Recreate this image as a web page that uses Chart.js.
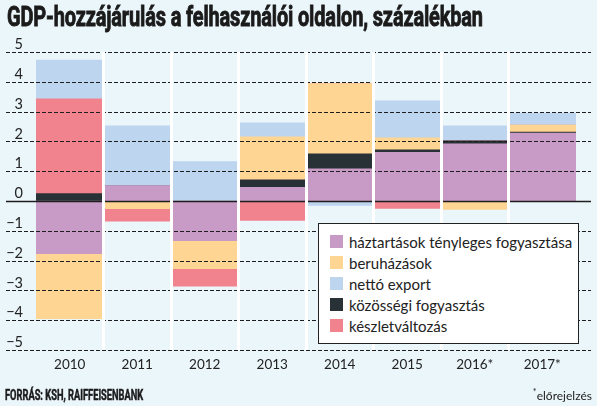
<!DOCTYPE html>
<html>
<head>
<meta charset="utf-8">
<script src="https://cdn.jsdelivr.net/npm/chart.js@4.4.1/dist/chart.umd.min.js"></script>
<style>
  html, body { margin: 0; padding: 0; background: #EBF6FB; }
  #wrap { position: relative; width: 597px; height: 406px; overflow: hidden; background: #EBF6FB; }
  #chart { position: absolute; left: 0; top: 0; }
  #title {
    position: absolute; left: 7px; top: 0px; white-space: nowrap;
    font: bold 28px Roboto, "DejaVu Sans", sans-serif; color: #1b1b1b;
    -webkit-text-stroke: 0.9px #1b1b1b;
    transform-origin: 0 0; letter-spacing: -0.2px;
  }
  #source {
    position: absolute; left: 5px; top: 387px; white-space: nowrap;
    font: bold 14px Roboto, sans-serif; color: #1b1b1b; transform-origin: 0 0;
    -webkit-text-stroke: 0.5px #1b1b1b;
  }
  #note {
    position: absolute; right: 5px; top: 386px; white-space: nowrap;
    font: 12px Lato, sans-serif; color: #222;
  }
  #note sup { font-size: 9px; }
  #legend {
    position: absolute; left: 318px; top: 223px; width: 261px; height: 121px;
    box-sizing: border-box; background: #fff; border: 1px solid #222;
    padding: 7px 0 0 11px;
  }
  .item { height: 21px; display: flex; align-items: center; font: 15px Lato, sans-serif; color: #222; white-space: nowrap; }
  .sw { width: 13px; height: 13px; margin-right: 6px; flex: none; }
</style>
</head>
<body>
<div id="wrap">
  <canvas id="chart" width="597" height="406"></canvas>
  <div id="title">GDP-hozzájárulás a felhasználói oldalon, százalékban</div>
  <div id="legend"></div>
  <div id="source">FORRÁS: KSH, RAIFFEISENBANK</div>
  <div id="note"><sup>*</sup>előrejelzés</div>
</div>
<script>
// categories
const years = ['2010', '2011', '2012', '2013', '2014', '2015', '2016*', '2017*'];

// series values (percentage points)
const haztartasok = [-1.77, 0.52, -1.33, 0.46, 1.08, 1.63, 1.92, 2.28];
const kozossegi = [0.25, 0, 0, 0.25, 0.50, 0.09, 0.10, 0.03];
const beruhazasok = [-2.18, -0.26, -0.94, 1.44, 2.36, 0.40, -0.28, 0.24];
const keszlet = [3.18, -0.42, -0.59, -0.65, 0, -0.25, 0, 0];
const nettoExport = [1.30, 2.00, 1.32, 0.47, -0.15, 1.24, 0.50, 0.40];

// y ticks
const yTicks = [-5, -4, -3, -2, -1, 0, 1, 2, 3, 4, 5];

const colors = {
    haztartasok: '#C79BC6',
    beruhazasok: '#FED592',
    nettoExport: '#BDD5EF',
    kozossegi: '#283236',
    keszlet: '#F0838D'
};

// legend order differs from stacking order
const legendItems = [
    ['háztartások tényleges fogyasztása', colors.haztartasok],
    ['beruházások', colors.beruhazasok],
    ['nettó export', colors.nettoExport],
    ['közösségi fogyasztás', colors.kozossegi],
    ['készletváltozás', colors.keszlet]
];

const legendEl = document.getElementById('legend');
legendItems.forEach(([label, color]) => {
    const row = document.createElement('div');
    row.className = 'item';
    row.innerHTML = '<span class="sw" style="background:' + color + '"></span>' + label;
    legendEl.appendChild(row);
});

// squeeze condensed headings to the reference width
function fitWidth(id, w) {
    const el = document.getElementById(id);
    el.style.transform = 'scaleX(' + (w / el.scrollWidth) + ')';
}
fitWidth('title', 476);
fitWidth('source', 138);

// dashed gridlines drawn over the bars, wider than the plot area
const dashedGrid = {
    id: 'dashedGrid',
    afterDatasetsDraw(chart) {
        const { ctx, scales: { y } } = chart;
        ctx.save();
        ctx.strokeStyle = '#1e1e1e';
        yTicks.forEach(v => {
            const py = Math.round(y.getPixelForValue(v)) + 0.5;
            ctx.beginPath();
            if (v === 0) {
                ctx.setLineDash([]);
                ctx.lineWidth = 1.5;
            } else {
                ctx.setLineDash([4, 2]);
                ctx.lineWidth = 1;
            }
            ctx.moveTo(6, py);
            ctx.lineTo(591, py);
            ctx.stroke();
        });
        ctx.restore();
    }
};

function ds(label, data, color) {
    return { label: label, data: data, backgroundColor: color, borderWidth: 0 };
}

new Chart(document.getElementById('chart'), {
    type: 'bar',
    data: {
        labels: years,
        datasets: [
            ds('háztartások tényleges fogyasztása', haztartasok, colors.haztartasok),
            ds('közösségi fogyasztás', kozossegi, colors.kozossegi),
            ds('beruházások', beruhazasok, colors.beruhazasok),
            ds('készletváltozás', keszlet, colors.keszlet),
            ds('nettó export', nettoExport, colors.nettoExport)
        ]
    },
    options: {
        responsive: false,
        animation: false,
        layout: { padding: { top: 52, right: 21, left: 0, bottom: 0 } },
        datasets: {
            bar: { barPercentage: 1, categoryPercentage: 1 }
        },
        plugins: {
            legend: { display: false },
            title: { display: false },
            tooltip: { enabled: false }
        },
        scales: {
            x: {
                stacked: true,
                afterFit: s => { s.height = 56; },
                border: { display: false },
                grid: {
                    offset: true,
                    drawTicks: false,
                    z: 1,
                    lineWidth: 3,
                    color: c => (c.index > 0 ? '#ffffff' : 'rgba(0,0,0,0)')
                },
                ticks: {
                    padding: 7,
                    color: '#222',
                    font: { family: 'Lato', size: 13.5 }
                }
            },
            y: {
                stacked: true,
                min: -5,
                max: 5,
                afterFit: s => { s.width = 36; },
                afterBuildTicks: s => { s.ticks = yTicks.map(v => ({ value: v })); },
                border: { display: false },
                grid: { display: false, drawTicks: false },
                ticks: {
                    padding: 13,
                    labelOffset: -7.5,
                    color: '#222',
                    font: { family: 'Lato', size: 14.5 },
                    callback: v => (v < 0 ? '\u2212' + Math.abs(v) : String(v))
                }
            }
        }
    },
    plugins: [dashedGrid]
});
</script>
</body>
</html>
